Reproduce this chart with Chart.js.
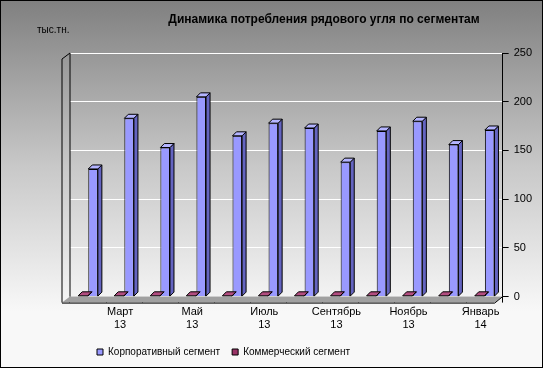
<!DOCTYPE html>
<html>
<head>
<meta charset="utf-8">
<script src="https://cdn.jsdelivr.net/npm/chart.js@4"></script>
<style>
    body { margin: 0; }
    .box {
        width: 543px; height: 368px; box-sizing: border-box;
        border: 1px solid #000;
        background: linear-gradient(#808080, #c8c8c8 45%, #f8f8f8 85%);
    }
</style>
</head>
<body>
<div class="box"><canvas id="myChart" width="541" height="366"></canvas></div>
<script>
let labels = [
    ['Февраль', '13'], ['Март', '13'], ['Апрель', '13'], ['Май', '13'],
    ['Июнь', '13'], ['Июль', '13'], ['Август', '13'], ['Сентябрь', '13'],
    ['Октябрь', '13'], ['Ноябрь', '13'], ['Декабрь', '13'], ['Январь', '14']
];
let corp = [131, 183, 153, 205, 165, 178, 173, 138, 170, 180, 156, 171];
let comm = [0.8, 0.8, 0.8, 0.8, 0.8, 0.8, 0.8, 0.8, 0.8, 0.8, 0.8, 0.8];

let depth = 4;

// walls, floor and the side/top faces of the columns
let fake3d = {
    id: 'fake3d',
    afterLayout(chart) {
        // legend sits left of centre in the original
        chart.legend.left += 15;
    },
    beforeDatasetsDraw(chart) {
        let ctx = chart.ctx;
        let a = chart.chartArea;
        ctx.save();
        // floor
        ctx.fillStyle = '#a0a0a0';
        ctx.strokeStyle = '#000';
        ctx.lineWidth = 1;
        ctx.beginPath();
        ctx.moveTo(a.left, a.bottom);
        ctx.lineTo(a.right, a.bottom);
        ctx.lineTo(a.right - 8, a.bottom + 6);
        ctx.lineTo(a.left - 8, a.bottom + 6);
        ctx.closePath();
        ctx.fill();
        // left wall
        ctx.beginPath();
        ctx.moveTo(a.left - 8, a.bottom + 6);
        ctx.lineTo(a.left - 8, a.top + 6);
        ctx.lineTo(a.left, a.top);
        ctx.lineTo(a.left, a.bottom);
        ctx.stroke();
        ctx.beginPath();
        ctx.moveTo(a.left - 8, a.bottom + 6.5);
        ctx.lineTo(a.right - 8, a.bottom + 6.5);
        ctx.lineTo(a.right, a.bottom);
        ctx.stroke();
        ctx.restore();
    },
    afterDatasetsDraw(chart) {
        let ctx = chart.ctx;
        ctx.save();
        chart.data.datasets.forEach((ds, i) => {
            chart.getDatasetMeta(i).data.forEach(bar => {
                let l = bar.x - bar.width / 2;
                let r = bar.x + bar.width / 2;
                let t = bar.y;
                let b = bar.base;
                ctx.lineWidth = 1;
                ctx.strokeStyle = '#000';
                ctx.fillStyle = i == 1 ? '#6464c0' : '#661133';
                ctx.beginPath();
                ctx.moveTo(r, t);
                ctx.lineTo(r + depth, t - depth);
                ctx.lineTo(r + depth, b - depth);
                ctx.lineTo(r, b);
                ctx.closePath();
                ctx.fill();
                ctx.stroke();
                ctx.fillStyle = i == 1 ? '#b4b4ff' : '#b34d80';
                ctx.beginPath();
                ctx.moveTo(l, t);
                ctx.lineTo(l + depth, t - depth);
                ctx.lineTo(r + depth, t - depth);
                ctx.lineTo(r, t);
                ctx.closePath();
                ctx.fill();
                ctx.stroke();
            });
        });
        ctx.restore();
    },
    afterDraw(chart) {
        let ctx = chart.ctx;
        ctx.save();
        ctx.fillStyle = '#000';
        ctx.textBaseline = 'middle';
        ctx.font = 'bold 12px "Liberation Sans", Arial';
        ctx.textAlign = 'center';
        ctx.fillText('Динамика потребления рядового угля по сегментам', 323, 19);
        ctx.font = '10px "Liberation Sans", Arial';
        ctx.textAlign = 'left';
        ctx.fillText('тыс.тн.', 36, 29);
        ctx.restore();
    }
};

let config = {
    type: 'bar',
    data: {
        labels: labels,
        datasets: [{
                label: 'Коммерческий сегмент',
                backgroundColor: '#993366',
                borderColor: '#000',
                borderWidth: 1,
                data: comm,
            },
            {
                label: 'Корпоративный сегмент',
                backgroundColor: '#9999ff',
                borderColor: '#000',
                borderWidth: 1,
                data: corp,
            }
        ]
    },
    options: {
        responsive: false,
        animation: false,
        categoryPercentage: 0.56,
        barPercentage: 0.95,
        layout: { padding: { left: 69, top: 52, right: 5, bottom: 0 } },
        plugins: {
            legend: {
                position: 'bottom',
                align: 'start',
                reverse: true,
                labels: {
                    boxWidth: 6, boxHeight: 6, padding: 12,
                    color: '#000',
                    font: { family: '"Liberation Sans", Arial', size: 10 }
                }
            },
            tooltip: { enabled: false }
        },
        scales: {
            x: {
                grid: {
                    offset: true, drawOnChartArea: false,
                    tickLength: 6, tickColor: '#000'
                },
                border: { display: false },
                ticks: {
                    autoSkip: false, maxRotation: 0, padding: 3, labelOffset: -4,
                    color: '#000',
                    font: { family: '"Liberation Sans", Arial', size: 11, lineHeight: 1.2 },
                    callback: function(v, i) { return i % 2 == 1 ? labels[i] : ''; }
                }
            },
            y: {
                position: 'right',
                min: 0, max: 250,
                grid: { color: '#fff', lineWidth: 1, tickColor: '#000', tickLength: 6 },
                border: { display: true, color: '#000', width: 1 },
                ticks: {
                    stepSize: 50, padding: 5, color: '#000',
                    font: { family: '"Liberation Sans", Arial', size: 11 }
                }
            }
        }
    },
    plugins: [fake3d]
};

let myChart = new Chart(document.getElementById('myChart'), config);
</script>
</body>
</html>
